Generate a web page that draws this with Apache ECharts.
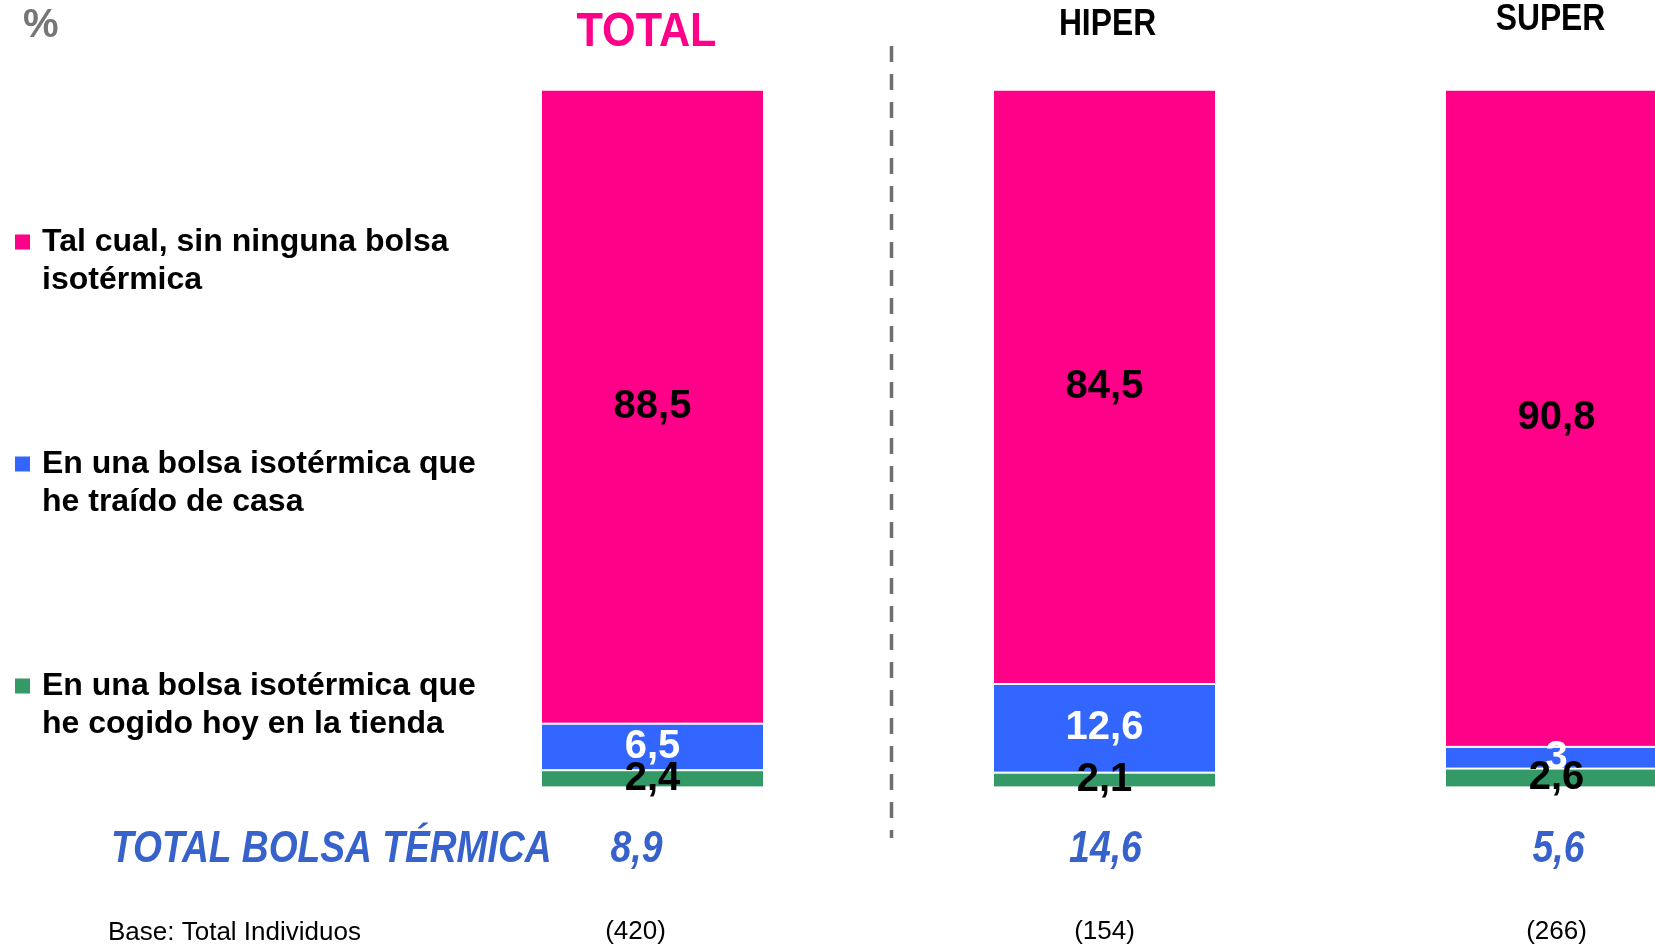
<!DOCTYPE html>
<html>
<head>
    <meta charset="utf-8">
    <title>Bolsa isotérmica</title>
    <script src="https://cdn.jsdelivr.net/npm/echarts@6/dist/echarts.min.js"></script>
    <style>
        html, body { margin: 0; padding: 0; background: #fff; }
    </style>
</head>
<body>
    <div id="main" style="width: 1655px;height:946px;"></div>

    <script type="text/javascript">
        // datos
        var categories = ['TOTAL', 'HIPER', 'SUPER'];
        var talCual = [88.5, 84.5, 90.8];
        var bolsaCasa = [6.5, 12.6, 3];
        var bolsaTienda = [2.4, 2.1, 2.6];
        var totalBolsa = [8.9, 14.6, 5.6];
        var baseN = ['(420)', '(154)', '(266)'];

        var seriesNames = [
            'Tal cual, sin ninguna bolsa isotérmica',
            'En una bolsa isotérmica que he traído de casa',
            'En una bolsa isotérmica que he cogido hoy en la tienda'
        ];
        var legendLabels = [
            'Tal cual, sin ninguna bolsa\nisotérmica',
            'En una bolsa isotérmica que\nhe traído de casa',
            'En una bolsa isotérmica que\nhe cogido hoy en la tienda'
        ];

        var PINK = '#ff0088', BLUE = '#3366ff', GREEN = '#339966', TBLUE = '#3762cc';
        var SANS = '"Liberation Sans", Arial, sans-serif';

        // cabeceras: color, tamaño, escala, desplazamiento respecto a la barra
        var headStyle = [
            { color: PINK, size: 48, sx: 0.9, dx: -6, y: 33 },
            { color: '#000', size: 37, sx: 0.86, dx: 3, y: 25 },
            { color: '#000', size: 37, sx: 0.86, dx: -6, y: 20 }
        ];
        var valueDx = [-16, 1, 2];

        function fmt(v) {
            return String(v).replace('.', ',');
        }

        // cada barra ocupa el 100% (apilado normalizado)
        function share(arr) {
            return arr.map(function (v, i) {
                return v / (talCual[i] + bolsaCasa[i] + bolsaTienda[i]) * 100;
            });
        }

        function barSeries(name, raw, color, labelColor, z) {
            return {
                name: name,
                type: 'bar',
                stack: 'total',
                barWidth: 223,
                z: z,
                data: share(raw),
                itemStyle: { color: color, borderColor: '#fff', borderWidth: 1 },
                label: {
                    show: true,
                    position: 'inside',
                    color: labelColor,
                    fontFamily: SANS,
                    fontWeight: 'bold',
                    fontSize: 40,
                    formatter: function (p) { return fmt(raw[p.dataIndex]); }
                }
            };
        }

        var myChart = echarts.init(document.getElementById('main'));

        option = {
            animation: false,
            backgroundColor: '#fff',
            grid: {
                left: 426.5,
                right: -127.5,
                top: 89.7,
                bottom: 158.6,
                containLabel: false,
                outerBoundsMode: 'none'
            },
            legend: {
                orient: 'vertical',
                left: 15,
                top: 185,
                padding: 0,
                itemWidth: 15,
                itemHeight: 15,
                itemGap: 108,
                icon: 'rect',
                selectedMode: false,
                itemStyle: { borderWidth: 0 },
                data: seriesNames,
                formatter: function (name) {
                    // línea vacía arriba para que el cuadrado quede a la altura de la primera línea
                    return '\n' + legendLabels[seriesNames.indexOf(name)];
                },
                textStyle: {
                    fontFamily: SANS,
                    fontWeight: 'bold',
                    fontSize: 32,
                    lineHeight: 38,
                    color: '#000',
                    padding: [0, 0, 0, 7]
                }
            },
            xAxis: {
                type: 'category',
                data: categories,
                axisLine: { show: false },
                axisTick: { show: false },
                splitLine: { show: false },
                axisLabel: {
                    interval: 0,
                    margin: 129.6,
                    formatter: function (v, i) {
                        return (i === 0 ? '{a|' : '{b|') + baseN[i] + '}';
                    },
                    rich: {
                        a: { color: '#000', fontFamily: SANS, fontSize: 26, lineHeight: 30, padding: [0, 34, 0, 0] },
                        b: { color: '#000', fontFamily: SANS, fontSize: 26, lineHeight: 30 }
                    }
                }
            },
            yAxis: {
                type: 'value',
                min: 0,
                max: 100,
                show: false
            },
            series: [
                barSeries(seriesNames[2], bolsaTienda, GREEN, '#000', 4),
                barSeries(seriesNames[1], bolsaCasa, BLUE, '#fff', 3),
                barSeries(seriesNames[0], talCual, PINK, '#000', 2)
            ]
        };

        myChart.setOption(option);

        // textos fijos y textos estrechos (escalados) colocados según el eje
        var g = [
            {
                type: 'text',
                x: 23, y: 26,
                style: { text: '%', fill: '#767676', font: 'bold 40px ' + SANS, verticalAlign: 'middle' }
            },
            {
                type: 'text',
                x: 111, y: 850, scaleX: 0.845,
                style: { text: 'TOTAL BOLSA TÉRMICA', fill: TBLUE, font: 'italic bold 44px ' + SANS, verticalAlign: 'middle' }
            },
            {
                type: 'text',
                x: 108, y: 933,
                style: { text: 'Base: Total Individuos', fill: '#000', font: '26px ' + SANS, verticalAlign: 'middle' }
            },
            {
                type: 'line',
                shape: { x1: 891.5, y1: 46, x2: 891.5, y2: 838 },
                style: { stroke: '#6e6e6e', lineWidth: 3.5, lineDash: [16, 12] }
            }
        ];
        categories.forEach(function (c, i) {
            var cx = myChart.convertToPixel({ xAxisIndex: 0 }, c);
            var h = headStyle[i];
            g.push({
                type: 'text',
                x: cx + h.dx, y: h.y, scaleX: h.sx,
                style: { text: c, fill: h.color, font: 'bold ' + h.size + 'px ' + SANS, align: 'center', verticalAlign: 'middle' }
            });
            g.push({
                type: 'text',
                x: cx + valueDx[i], y: 850, scaleX: 0.85,
                style: { text: fmt(totalBolsa[i]), fill: TBLUE, font: 'italic bold 44px ' + SANS, align: 'center', verticalAlign: 'middle' }
            });
        });
        myChart.setOption({ graphic: g });
    </script>
</body>
</html>
